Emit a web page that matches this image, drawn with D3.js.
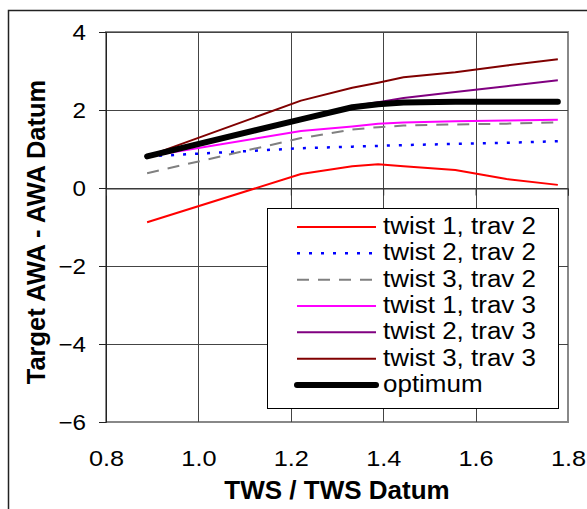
<!DOCTYPE html>
<html>
<head>
<meta charset="utf-8">
<script src="https://cdn.jsdelivr.net/npm/d3@7"></script>
<style>
  html, body { margin: 0; padding: 0; background: #fff; }
  svg { display: block; }
  text { font-family: "Liberation Sans", Arial, sans-serif; fill: #000; }
</style>
</head>
<body>
<svg id="chart" width="587" height="509"></svg>
<script>
// TWS ratio at which each configuration was evaluated
const twsRatio = [0.889, 1.222, 1.333, 1.389, 1.444, 1.556, 1.667, 1.778];

// Target AWA minus AWA datum, per configuration
const twist1Trav2 = [-0.88, 0.36, 0.56, 0.61, 0.56, 0.46, 0.23, 0.08];
const twist2Trav2 = [0.81, 1.02, 1.06, 1.08, 1.10, 1.13, 1.16, 1.20];
const twist3Trav2 = [0.38, 1.28, 1.50, 1.56, 1.60, 1.63, 1.65, 1.68];
const twist1Trav3 = [0.81, 1.46, 1.58, 1.65, 1.68, 1.71, 1.73, 1.75];
const twist2Trav3 = [0.81, 1.76, 2.10, 2.20, 2.31, 2.46, 2.61, 2.76];
const twist3Trav3 = [0.81, 2.24, 2.57, 2.70, 2.84, 2.97, 3.14, 3.30];
const optimum     = [0.81, 1.76, 2.07, 2.15, 2.19, 2.21, 2.21, 2.21];

const seriesNames = ["twist 1, trav 2", "twist 2, trav 2", "twist 3, trav 2",
                     "twist 1, trav 3", "twist 2, trav 3", "twist 3, trav 3", "optimum"];

const xTicks = [0.8, 1.0, 1.2, 1.4, 1.6, 1.8];
const yTicks = [-6, -4, -2, 0, 2, 4];

const xTitle = "TWS / TWS Datum";
const yTitle = "Target AWA - AWA Datum";

const seriesValues = [twist1Trav2, twist2Trav2, twist3Trav2, twist1Trav3, twist2Trav3, twist3Trav3, optimum];
const styles = [
  { color: "#ff0000", width: 2,   dash: null },
  { color: "#0000ff", width: 2.5, dash: "3,9" },
  { color: "#808080", width: 2,   dash: "12,9" },
  { color: "#ff00ff", width: 2,   dash: null },
  { color: "#800080", width: 2,   dash: null },
  { color: "#800000", width: 2,   dash: null },
  { color: "#000000", width: 6,   dash: null }
];
const series = seriesNames.map((name, i) => ({
  name,
  style: styles[i],
  points: twsRatio.map((t, j) => ({ x: t, y: seriesValues[i][j] }))
}));

const svg = d3.select("#chart");
const plot = { left: 106, right: 568, top: 32, bottom: 422 };

const x = d3.scaleLinear().domain([0.8, 1.8]).range([plot.left, plot.right]);
const y = d3.scaleLinear().domain([-6, 4]).range([plot.bottom, plot.top]);

// widen text glyphs horizontally about their own anchor point
function widen(sel, s) {
  sel.each(function () {
    const t = d3.select(this);
    const tx = +t.attr("x") || 0, ty = +t.attr("y") || 0;
    t.attr("transform", `translate(${tx},${ty}) scale(${s},1) translate(${-tx},${-ty})`);
  });
}

// outer chart frame
svg.append("rect")
  .attr("x", 8.5).attr("y", 10.5)
  .attr("width", 700).attr("height", 700)
  .attr("fill", "none").attr("stroke", "#222").attr("stroke-width", 1.5);

// plot area border
svg.append("rect")
  .attr("x", plot.left).attr("y", plot.top)
  .attr("width", plot.right - plot.left).attr("height", plot.bottom - plot.top)
  .attr("fill", "#fff").attr("stroke", "#888").attr("stroke-width", 2);

// gridlines
const grid = svg.append("g").attr("stroke", "#444").attr("stroke-width", 1);
grid.selectAll("line.v")
  .data(xTicks.filter(t => t > 0.8 && t < 1.8))
  .join("line")
  .attr("x1", d => Math.round(x(d)) + 0.5).attr("x2", d => Math.round(x(d)) + 0.5)
  .attr("y1", plot.top).attr("y2", plot.bottom);
grid.selectAll("line.h")
  .data(yTicks.filter(t => t > -6))
  .join("line")
  .attr("y1", d => Math.round(y(d)) + 0.5).attr("y2", d => Math.round(y(d)) + 0.5)
  .attr("x1", plot.left).attr("x2", plot.right);

// y axis
const yAxis = svg.append("g")
  .attr("transform", `translate(${plot.left},0)`)
  .call(d3.axisLeft(y).tickValues(yTicks).tickSize(7).tickPadding(13).tickFormat(d3.format("d")));
yAxis.selectAll("text").attr("font-size", 22).attr("font-family", "Liberation Sans, Arial, sans-serif")
  .call(widen, 1.1);
yAxis.selectAll("line, path").attr("stroke", "#222");

// x axis crossing at zero (ticks only)
const xAxisZero = svg.append("g")
  .attr("transform", `translate(0,${Math.round(y(0)) + 0.5})`)
  .call(d3.axisBottom(x).tickValues(xTicks).tickSize(7).tickFormat(""));
xAxisZero.selectAll("line, path").attr("stroke", "#333");

// x tick labels along the bottom
const xLabels = svg.append("g")
  .attr("transform", `translate(0,${plot.bottom})`)
  .call(d3.axisBottom(x).tickValues(xTicks).tickSize(0).tickPadding(28).tickFormat(d3.format(".1f")));
xLabels.select(".domain").remove();
xLabels.selectAll("text").attr("font-size", 22).attr("font-family", "Liberation Sans, Arial, sans-serif")
  .call(widen, 1.15);

// series lines
const line = d3.line().x(d => x(d.x)).y(d => y(d.y));
svg.append("g").selectAll("path")
  .data(series)
  .join("path")
  .attr("d", d => line(d.points))
  .attr("fill", "none")
  .attr("stroke", d => d.style.color)
  .attr("stroke-width", d => d.style.width)
  .attr("stroke-dasharray", d => d.style.dash)
  .attr("stroke-linecap", d => d.style.width > 4 ? "round" : "butt")
  .attr("stroke-linejoin", "round");

// legend
const legend = svg.append("g");
legend.append("rect")
  .attr("x", 267.5).attr("y", 208.5).attr("width", 291).attr("height", 200)
  .attr("fill", "#fff").attr("stroke", "#000").attr("stroke-width", 1);
const rowY = d3.scalePoint().domain(seriesNames).range([227, 385]);
const rows = legend.selectAll("g.row").data(series).join("g")
  .attr("transform", d => `translate(0,${rowY(d.name)})`);
rows.append("line")
  .attr("x1", 297).attr("x2", 376)
  .attr("stroke", d => d.style.color)
  .attr("stroke-width", d => d.style.width)
  .attr("stroke-dasharray", d => d.style.dash)
  .attr("stroke-linecap", d => d.style.width > 4 ? "round" : "butt");
rows.append("text")
  .attr("x", 383).attr("y", 7)
  .attr("font-size", 23)
  .text(d => d.name)
  .call(widen, 1.13);

// axis titles
svg.append("text")
  .attr("x", (plot.left + plot.right) / 2).attr("y", 499)
  .attr("text-anchor", "middle").attr("font-weight", "bold").attr("font-size", 26)
  .text(xTitle);
svg.append("text")
  .attr("transform", "translate(45,232) rotate(-90)")
  .attr("text-anchor", "middle").attr("font-weight", "bold").attr("font-size", 25.5)
  .text(yTitle);
</script>
</body>
</html>
